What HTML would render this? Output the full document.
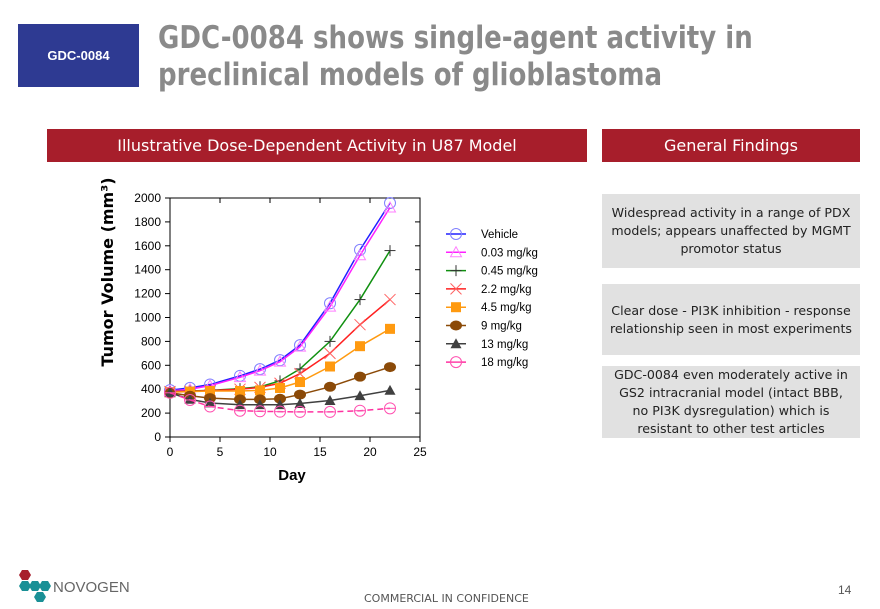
<!DOCTYPE html>
<html><head><meta charset="utf-8"><style>
body{margin:0;width:880px;height:609px;background:#fff;font-family:"Liberation Sans","DejaVu Sans",sans-serif;position:relative;overflow:hidden}
.abs{position:absolute}
.box{background:#e1e1e1;color:#222;font-size:12.6px;text-align:center;line-height:18px;display:flex;align-items:center;justify-content:center;font-family:"DejaVu Sans",sans-serif;box-sizing:border-box;padding:0 8px}
</style></head><body>
<div class="abs" style="left:18px;top:24px;width:121px;height:63px;background:#2e3a92;color:#fff;font-weight:bold;font-size:13px;display:flex;align-items:center;justify-content:center">GDC-0084</div>
<div class="abs" style="left:158px;top:20px;font-size:31px;font-weight:bold;color:#8a8a8a;line-height:37px;font-family:'DejaVu Sans',sans-serif;white-space:nowrap;transform:scaleX(0.84);transform-origin:left top">GDC-0084 shows single-agent activity in<br>preclinical models of glioblastoma</div>
<div class="abs" style="left:47px;top:129px;width:540px;height:33px;background:#a71e2b;color:#fff;font-size:16px;display:flex;align-items:center;justify-content:center;font-family:'DejaVu Sans',sans-serif">Illustrative Dose-Dependent Activity in U87 Model</div>
<div class="abs" style="left:602px;top:129px;width:258px;height:33px;background:#a71e2b;color:#fff;font-size:16px;display:flex;align-items:center;justify-content:center;font-family:'DejaVu Sans',sans-serif">General Findings</div>
<div class="abs box" style="left:602px;top:194px;width:258px;height:74px">Widespread activity in a range of PDX models; appears unaffected by MGMT promotor status</div>
<div class="abs box" style="left:602px;top:284px;width:258px;height:71px">Clear dose - PI3K inhibition - response relationship seen in most experiments</div>
<div class="abs box" style="left:602px;top:366px;width:258px;height:72px">GDC-0084 even moderately active in GS2 intracranial model (intact BBB, no PI3K dysregulation) which is resistant to other test articles</div>
<svg class="abs" style="left:0;top:0" width="880" height="609" id="chart"></svg>
<div class="abs" style="left:364px;top:592px;font-size:11px;color:#555;font-family:'DejaVu Sans',sans-serif">COMMERCIAL IN CONFIDENCE</div>
<div class="abs" style="left:838px;top:583px;font-size:12px;color:#555">14</div>
<svg class="abs" style="left:14px;top:568px" width="120" height="36">
<polygon points="8,2 14,2 17,7 14,12 8,12 5,7" fill="#a71e2b"/>
<polygon points="8,13 14,13 17,18 14,23 8,23 5,18" fill="#1a9096"/>
<polygon points="18,13 24,13 27,18 24,23 18,23 15,18" fill="#1a9096"/>
<polygon points="28,13 34,13 37,18 34,23 28,23 25,18" fill="#1a9096"/>
<polygon points="23,24 29,24 32,29 29,34 23,34 20,29" fill="#1a9096"/>
<text x="39" y="24" font-size="15" fill="#666" font-family="Liberation Sans">NOVOGEN</text>
</svg>
<script>
const days=[0,2,4,7,9,11,13,16,19,22];
const vehicle=[392,411,439,512,568,643,769,1119,1566,1958];
const d003=[385,400,430,500,555,630,755,1090,1520,1920];
const d045=[380,385,390,405,420,470,570,800,1150,1560];
const d22=[380,383,388,400,415,450,530,700,940,1150];
const d45=[375,380,385,385,390,410,460,590,760,905];
const d9=[370,345,325,315,315,320,355,420,505,585];
const d13=[370,315,285,270,270,270,280,305,345,390];
const d18=[370,310,255,220,215,212,210,210,220,240];
const seriesNames=["Vehicle","0.03 mg/kg","0.45 mg/kg","2.2 mg/kg","4.5 mg/kg","9 mg/kg","13 mg/kg","18 mg/kg"];
const xTicks=[0,5,10,15,20,25];
const yTicks=[0,200,400,600,800,1000,1200,1400,1600,1800,2000];
const series=[vehicle,d003,d045,d22,d45,d9,d13,d18];
const styles=[["#2020ff","circle","#8080ff"],["#ff20ff","tri","#ff80ff"],["#109010","plus","#333"],["#ff2020","x","#ff6060"],["#ff9a10","square","#ff9a10"],["#8b4a08","dot","#8b4a08"],["#404040","ftri","#404040"],["#ff30a0","ocirc","#ff50b0"]];
const X=d=>170+d*10, Y=v=>437-v*0.1195;
const svg=document.getElementById('chart');const NS='http://www.w3.org/2000/svg';
function mk(t,a,p){const e=document.createElementNS(NS,t);for(const k in a)e.setAttribute(k,a[k]);(p||svg).appendChild(e);return e;}
mk('rect',{x:170,y:198,width:250,height:239,fill:'none',stroke:'#000','stroke-width':1});
xTicks.forEach(t=>{mk('line',{x1:X(t),x2:X(t),y1:437,y2:442,stroke:'#000'});mk('line',{x1:X(t),x2:X(t),y1:198,y2:203,stroke:'#000'});const e=mk('text',{x:X(t),y:456,'font-size':12,'text-anchor':'middle'});e.textContent=t;});
yTicks.forEach(t=>{mk('line',{x1:165,x2:170,y1:Y(t),y2:Y(t),stroke:'#000'});mk('line',{x1:415,x2:420,y1:Y(t),y2:Y(t),stroke:'#000'});const e=mk('text',{x:161,y:Y(t)+4,'font-size':12,'text-anchor':'end'});e.textContent=t;});
let xt=mk('text',{x:292,y:480,'font-size':15,'font-weight':'bold','text-anchor':'middle'});xt.textContent='Day';
let yt=mk('text',{x:0,y:0,'font-size':16,'font-weight':'bold','text-anchor':'middle',transform:'translate(113,272) rotate(-90)','font-family':'DejaVu Sans'});yt.textContent='Tumor Volume (mm³)';
function marker(g,kind,x,y,c){const s=5.5;
 if(kind=='circle')mk('circle',{cx:x,cy:y,r:s,fill:'none',stroke:c},g);
 if(kind=='ocirc'){mk('circle',{cx:x,cy:y,r:s,fill:'none',stroke:c},g);mk('line',{x1:x-s,x2:x+s,y1:y,y2:y,stroke:c},g);}
 if(kind=='tri')mk('polygon',{points:`${x},${y-s} ${x-s},${y+s*0.8} ${x+s},${y+s*0.8}`,fill:'none',stroke:c},g);
 if(kind=='ftri')mk('polygon',{points:`${x},${y-s} ${x-s},${y+s*0.8} ${x+s},${y+s*0.8}`,fill:c},g);
 if(kind=='plus'){mk('line',{x1:x-s,x2:x+s,y1:y,y2:y,stroke:c},g);mk('line',{x1:x,x2:x,y1:y-s,y2:y+s,stroke:c},g);}
 if(kind=='x'){mk('line',{x1:x-s,x2:x+s,y1:y-s,y2:y+s,stroke:c},g);mk('line',{x1:x-s,x2:x+s,y1:y+s,y2:y-s,stroke:c},g);}
 if(kind=='square')mk('rect',{x:x-5,y:y-5,width:10,height:10,fill:c},g);
 if(kind=='dot')mk('ellipse',{cx:x,cy:y,rx:6,ry:5,fill:c},g);
}
series.forEach((vals,i)=>{const [lc,kind,mc]=styles[i];const g=mk('g',{});
 const pts=vals.map((v,j)=>X(days[j])+','+Y(v)).join(' ');
 const pl=mk('polyline',{points:pts,fill:'none',stroke:lc,'stroke-width':1.5},g);if(i==7)pl.setAttribute('stroke-dasharray','6,4');
 vals.forEach((v,j)=>marker(g,kind,X(days[j]),Y(v),mc));
 const ly=234+i*18.3;const lg=mk('g',{});
 mk('line',{x1:446,x2:466,y1:ly,y2:ly,stroke:lc,'stroke-width':1.5},lg);marker(lg,kind,456,ly,mc);
 const t=mk('text',{x:481,y:ly+4,'font-size':11.5},lg);t.textContent=seriesNames[i];});
</script>
</body></html>
